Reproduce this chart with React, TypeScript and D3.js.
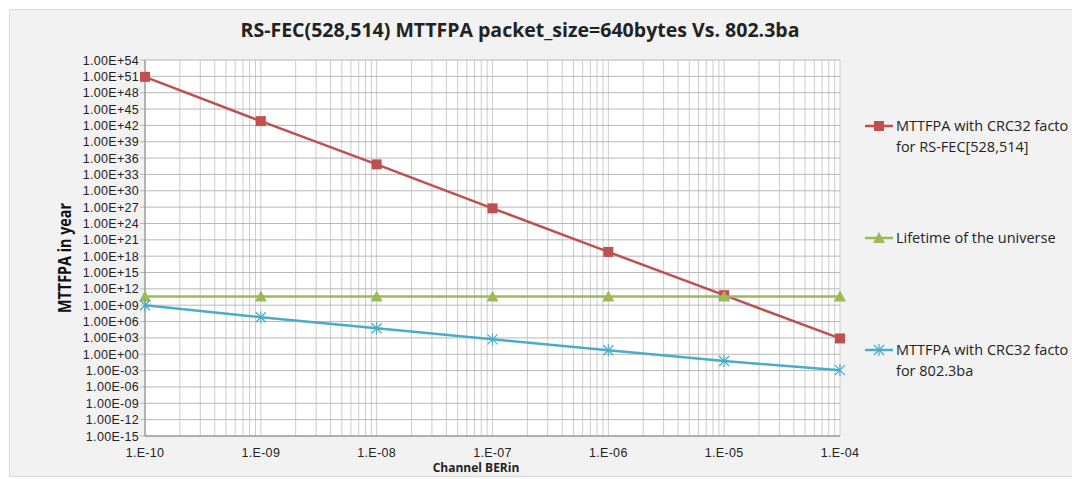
import React from "react";
import * as d3 from "d3";

const berValues = [1e-10, 1e-9, 1e-8, 1e-7, 1e-6, 1e-5, 1e-4];
const xTickLabels = ["1.E-10", "1.E-09", "1.E-08", "1.E-07", "1.E-06", "1.E-05", "1.E-04"];
const rsFecMttfpa = [8e50, 6e42, 7e34, 6e26, 6e18, 7e10, 8e2];
const universeLifetime = [4e10, 4e10, 4e10, 4e10, 4e10, 4e10, 4e10];
const ba8023Mttfpa = [1e9, 6.3e6, 6e4, 5.5e2, 5.5e0, 5.9e-2, 1.2e-3];
const yTickExponents = d3.range(-15, 55, 3);

const seriesNames = [
  ["MTTFPA with CRC32 facto", "for RS-FEC[528,514]"],
  ["Lifetime of the universe"],
  ["MTTFPA with CRC32 facto", "for 802.3ba"],
];

const RED = "#c0504d";
const GREEN = "#9bbb59";
const BLUE = "#4bacc6";
const FONT = "'Open Sans', 'Liberation Sans', sans-serif";
const TICKFONT = "'Liberation Sans', sans-serif";

function fmtExp(e: number) {
  const sign = e < 0 ? "-" : "+";
  const a = Math.abs(e);
  return `1.00E${sign}${a < 10 ? "0" + a : a}`;
}

function Marker({ kind, x, y, color }: { kind: string; x: number; y: number; color: string }) {
  if (kind === "square") {
    return <rect x={x - 5} y={y - 5} width={10} height={10} fill={color} />;
  }
  if (kind === "triangle") {
    return <path d={`M${x},${y - 6} L${x + 6},${y + 5} L${x - 6},${y + 5} Z`} fill={color} />;
  }
  return (
    <g stroke={color} strokeWidth={1.2}>
      <line x1={x - 5} y1={y - 5} x2={x + 5} y2={y + 5} />
      <line x1={x - 5} y1={y + 5} x2={x + 5} y2={y - 5} />
      <line x1={x} y1={y - 6} x2={x} y2={y + 6} />
    </g>
  );
}

export default function App() {
  const W = 1072;
  const H = 479;
  const left = 145, right = 840, top = 60, bottom = 436;

  const x = d3.scaleLog().domain([1e-10, 1e-4]).range([left, right]);
  const y = d3.scaleLog().domain([1e-15, 1e54]).range([bottom, top]);

  const minorX: number[] = [];
  for (let e = -10; e < -4; e++) {
    for (let m = 1; m <= 9; m++) minorX.push(m * Math.pow(10, e));
  }
  minorX.push(1e-4);

  const line = d3
    .line<number>()
    .x((_, i) => x(berValues[i]))
    .y((d) => y(d));

  const series = [
    { data: rsFecMttfpa, color: RED, kind: "square" },
    { data: universeLifetime, color: GREEN, kind: "triangle" },
    { data: ba8023Mttfpa, color: BLUE, kind: "star" },
  ];

  const legendY = [126, 238, 350];

  return (
    <svg
      width={W}
      height={H}
      style={{ position: "absolute", left: 0, top: 0, display: "block" }}
      fontFamily={FONT}
    >
      <rect x={0} y={0} width={W} height={H} fill="#ffffff" />
      <rect x={9.5} y={9.5} width={W} height={467} fill="#f2f2f2" stroke="#d9d9d9" />
      <text
        x={520}
        y={37}
        textAnchor="middle"
        fontSize={20}
        fontWeight="bold"
        fill="#222"
        textLength={559}
        lengthAdjust="spacingAndGlyphs"
      >
        RS-FEC(528,514) MTTFPA packet_size=640bytes Vs. 802.3ba
      </text>

      <rect x={left} y={top} width={right - left} height={bottom - top} fill="#ffffff" />
      {minorX.map((v, i) => (
        <line key={"vx" + i} x1={x(v)} x2={x(v)} y1={top} y2={bottom} stroke="#cccccc" strokeWidth={1} />
      ))}
      {yTickExponents.map((e) => (
        <line
          key={"hy" + e}
          x1={left - 5}
          x2={right}
          y1={y(Math.pow(10, e))}
          y2={y(Math.pow(10, e))}
          stroke="#b8b8b8"
          strokeWidth={1}
        />
      ))}
      <line x1={left} x2={left} y1={top} y2={bottom} stroke="#868686" />
      <line x1={left} x2={right} y1={bottom} y2={bottom} stroke="#868686" />

      {yTickExponents.map((e) => (
        <text
          key={"yl" + e}
          x={139}
          y={y(Math.pow(10, e)) + 4.5}
          textAnchor="end"
          fontSize={12.5}
          letterSpacing={0.3}
          fill="#222"
          fontFamily={TICKFONT}
        >
          {fmtExp(e)}
        </text>
      ))}
      {berValues.map((v, i) => (
        <text
          key={"xl" + i}
          x={x(v)}
          y={457}
          textAnchor="middle"
          fontSize={12.5}
          letterSpacing={0.3}
          fill="#222"
          fontFamily={TICKFONT}
        >
          {xTickLabels[i]}
        </text>
      ))}
      <text x={476} y={472} textAnchor="middle" fontSize={12} fontWeight="bold" fill="#222">
        Channel BERin
      </text>
      <text
        transform={`translate(71,${258}) rotate(-90)`}
        textAnchor="middle"
        fontSize={17}
        fontWeight="bold"
        fill="#111"
        textLength={110}
        lengthAdjust="spacingAndGlyphs"
      >
        MTTFPA in year
      </text>

      {series.map((s, si) => (
        <g key={"s" + si}>
          <path d={line(s.data) || ""} fill="none" stroke={s.color} strokeWidth={2.5} />
          {s.data.map((d, i) => (
            <Marker key={i} kind={s.kind} x={x(berValues[i])} y={y(d)} color={s.color} />
          ))}
        </g>
      ))}

      {series.map((s, si) => (
        <g key={"lg" + si}>
          <line x1={865} x2={893} y1={legendY[si]} y2={legendY[si]} stroke={s.color} strokeWidth={2.5} />
          <Marker kind={s.kind} x={879} y={legendY[si]} color={s.color} />
          {seriesNames[si].map((t, ti) => (
            <text key={ti} x={896} y={legendY[si] + 5 + ti * 21} fontSize={14.5} fill="#222">
              {t}
            </text>
          ))}
        </g>
      ))}
    </svg>
  );
}
